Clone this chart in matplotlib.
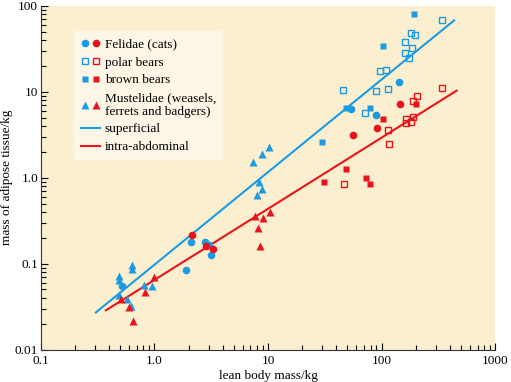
import matplotlib.pyplot as plt
from matplotlib.lines import Line2D
from matplotlib.legend_handler import HandlerTuple

plt.rcParams['font.family'] = ['Liberation Serif', 'DejaVu Serif']

BLUE = '#1a9be3'
RED = '#e8141c'
BG = '#fcefcf'

# superficial adipose tissue (blue)
cat_sup_x = [0.52, 1.91, 2.08, 2.81, 3.02, 3.15, 54.3, 88.9, 143]
cat_sup_y = [0.055, 0.085, 0.177, 0.178, 0.166, 0.126, 6.3, 5.36, 13.1]
polar_sup_x = [45.6, 96.4, 110, 88.9, 115, 71.8, 338, 183, 198, 161, 186, 160, 176]
polar_sup_y = [10.6, 17.4, 18.0, 10.2, 10.8, 5.6, 68.7, 48.5, 45.6, 37.8, 31.9, 28.2, 24.8]
brown_sup_x = [194, 102, 48.2, 78.7, 29.8]
brown_sup_y = [79.3, 33.7, 6.4, 6.4, 2.62]
must_sup_x = [0.49, 0.49, 0.49, 0.635, 0.635, 0.579, 0.626, 0.81, 0.96,
              10.3, 8.79, 7.37, 8.32, 8.79, 7.98]
must_sup_y = [0.0725, 0.065, 0.0436, 0.095, 0.0867, 0.0389, 0.0325, 0.057, 0.0545,
              2.27, 1.9, 1.51, 0.90, 0.74, 0.634]

# intra-abdominal adipose tissue (red)
cat_abd_x = [2.16, 2.86, 3.28, 55.5, 91.4, 146]
cat_abd_y = [0.217, 0.159, 0.148, 3.16, 3.74, 7.24]
polar_abd_x = [341, 188, 206, 164, 164, 182, 188, 114, 117, 46.9]
polar_abd_y = [11.1, 7.8, 8.8, 4.85, 4.32, 4.48, 5.08, 3.55, 2.48, 0.835]
brown_abd_x = [103, 48.4, 30.8, 73.3, 79.8, 200]
brown_abd_y = [4.82, 1.26, 0.88, 0.99, 0.835, 7.24]
must_abd_x = [0.506, 0.6, 0.649, 0.83, 0.99, 10.5, 9.0, 7.67, 8.22, 8.56]
must_abd_y = [0.039, 0.031, 0.0217, 0.0469, 0.0693, 0.40, 0.336, 0.361, 0.257, 0.159]

# fitted lines (end points)
sup_line_x = [0.305, 435]
sup_line_y = [0.027, 67.5]
abd_line_x = [0.374, 459]
abd_line_y = [0.0286, 10.3]

fig = plt.figure(figsize=(5.11, 3.82), dpi=100)
ax = fig.add_axes([0.080, 0.085, 0.889, 0.900])
ax.set_facecolor(BG)

ax.plot(sup_line_x, sup_line_y, color=BLUE, lw=1.5, zorder=2)
ax.plot(abd_line_x, abd_line_y, color=RED, lw=1.5, zorder=2)

ms_o, ms_s, ms_t = 5.5, 5, 6
ax.plot(cat_sup_x, cat_sup_y, 'o', color=BLUE, ms=ms_o, mec='none', zorder=3)
ax.plot(polar_sup_x, polar_sup_y, 's', mfc='none', mec=BLUE, mew=1.0, ms=ms_s, zorder=3)
ax.plot(brown_sup_x, brown_sup_y, 's', color=BLUE, ms=ms_s, mec='none', zorder=3)
ax.plot(must_sup_x, must_sup_y, '^', color=BLUE, ms=ms_t, mec='none', zorder=3)

ax.plot(cat_abd_x, cat_abd_y, 'o', color=RED, ms=ms_o, mec='none', zorder=3)
ax.plot(polar_abd_x, polar_abd_y, 's', mfc='none', mec=RED, mew=1.0, ms=ms_s, zorder=3)
ax.plot(brown_abd_x, brown_abd_y, 's', color=RED, ms=ms_s, mec='none', zorder=3)
ax.plot(must_abd_x, must_abd_y, '^', color=RED, ms=ms_t, mec='none', zorder=3)

ax.set_xscale('log')
ax.set_yscale('log')
ax.set_xlim(0.1, 1000)
ax.set_ylim(0.01, 100)
ax.set_xticks([0.1, 1, 10, 100, 1000])
ax.set_xticklabels(['0.1', '1.0', '10', '100', '1000'])
ax.set_yticks([0.01, 0.1, 1, 10, 100])
ax.set_yticklabels(['0.01', '0.1', '1.0', '10', '100'])
ax.tick_params(which='major', direction='in', length=5, width=0.8, labelsize=9.5)
ax.tick_params(axis='x', which='major', pad=4)
ax.tick_params(axis='y', which='major', pad=2)
ax.tick_params(which='minor', direction='in', length=3.5, width=0.8)
for s in ['top', 'right']:
    ax.spines[s].set_visible(False)
for s in ['left', 'bottom']:
    ax.spines[s].set_color('#333333')
ax.set_xlabel('lean body mass/kg', fontsize=9.5)
ax.set_ylabel('mass of adipose tissue/kg', fontsize=9.5, labelpad=1)
ax.xaxis.set_label_coords(0.5, -0.06)

def mk(marker, color, size, filled=True):
    if filled:
        return Line2D([], [], ls='none', marker=marker, color=color, mec='none', ms=size)
    return Line2D([], [], ls='none', marker=marker, mfc='none', mec=color, mew=1.0, ms=size)

handles = [
    (mk('o', BLUE, ms_o), mk('o', RED, ms_o)),
    (mk('s', BLUE, ms_s, False), mk('s', RED, ms_s, False)),
    (mk('s', BLUE, ms_s), mk('s', RED, ms_s)),
    (mk('^', BLUE, ms_t), mk('^', RED, ms_t)),
    Line2D([], [], color=BLUE, lw=1.5),
    Line2D([], [], color=RED, lw=1.5),
]
labels = ['Felidae (cats)', 'polar bears', 'brown bears',
          'Mustelidae (weasels,\nferrets and badgers)', 'superficial', 'intra-abdominal']
leg = ax.legend(handles, labels, handler_map={tuple: HandlerTuple(ndivide=None, pad=0.3)},
                loc='upper left', bbox_to_anchor=(0.058, 0.945), fontsize=9.5,
                frameon=True, fancybox=False, handlelength=1.4, handletextpad=0.4,
                labelspacing=0.42, borderpad=0.55)
leg.get_frame().set_facecolor('#fdf6e6')
leg.get_frame().set_edgecolor('none')
leg.get_frame().set_alpha(1)

fig.savefig('out.png', dpi=100)
